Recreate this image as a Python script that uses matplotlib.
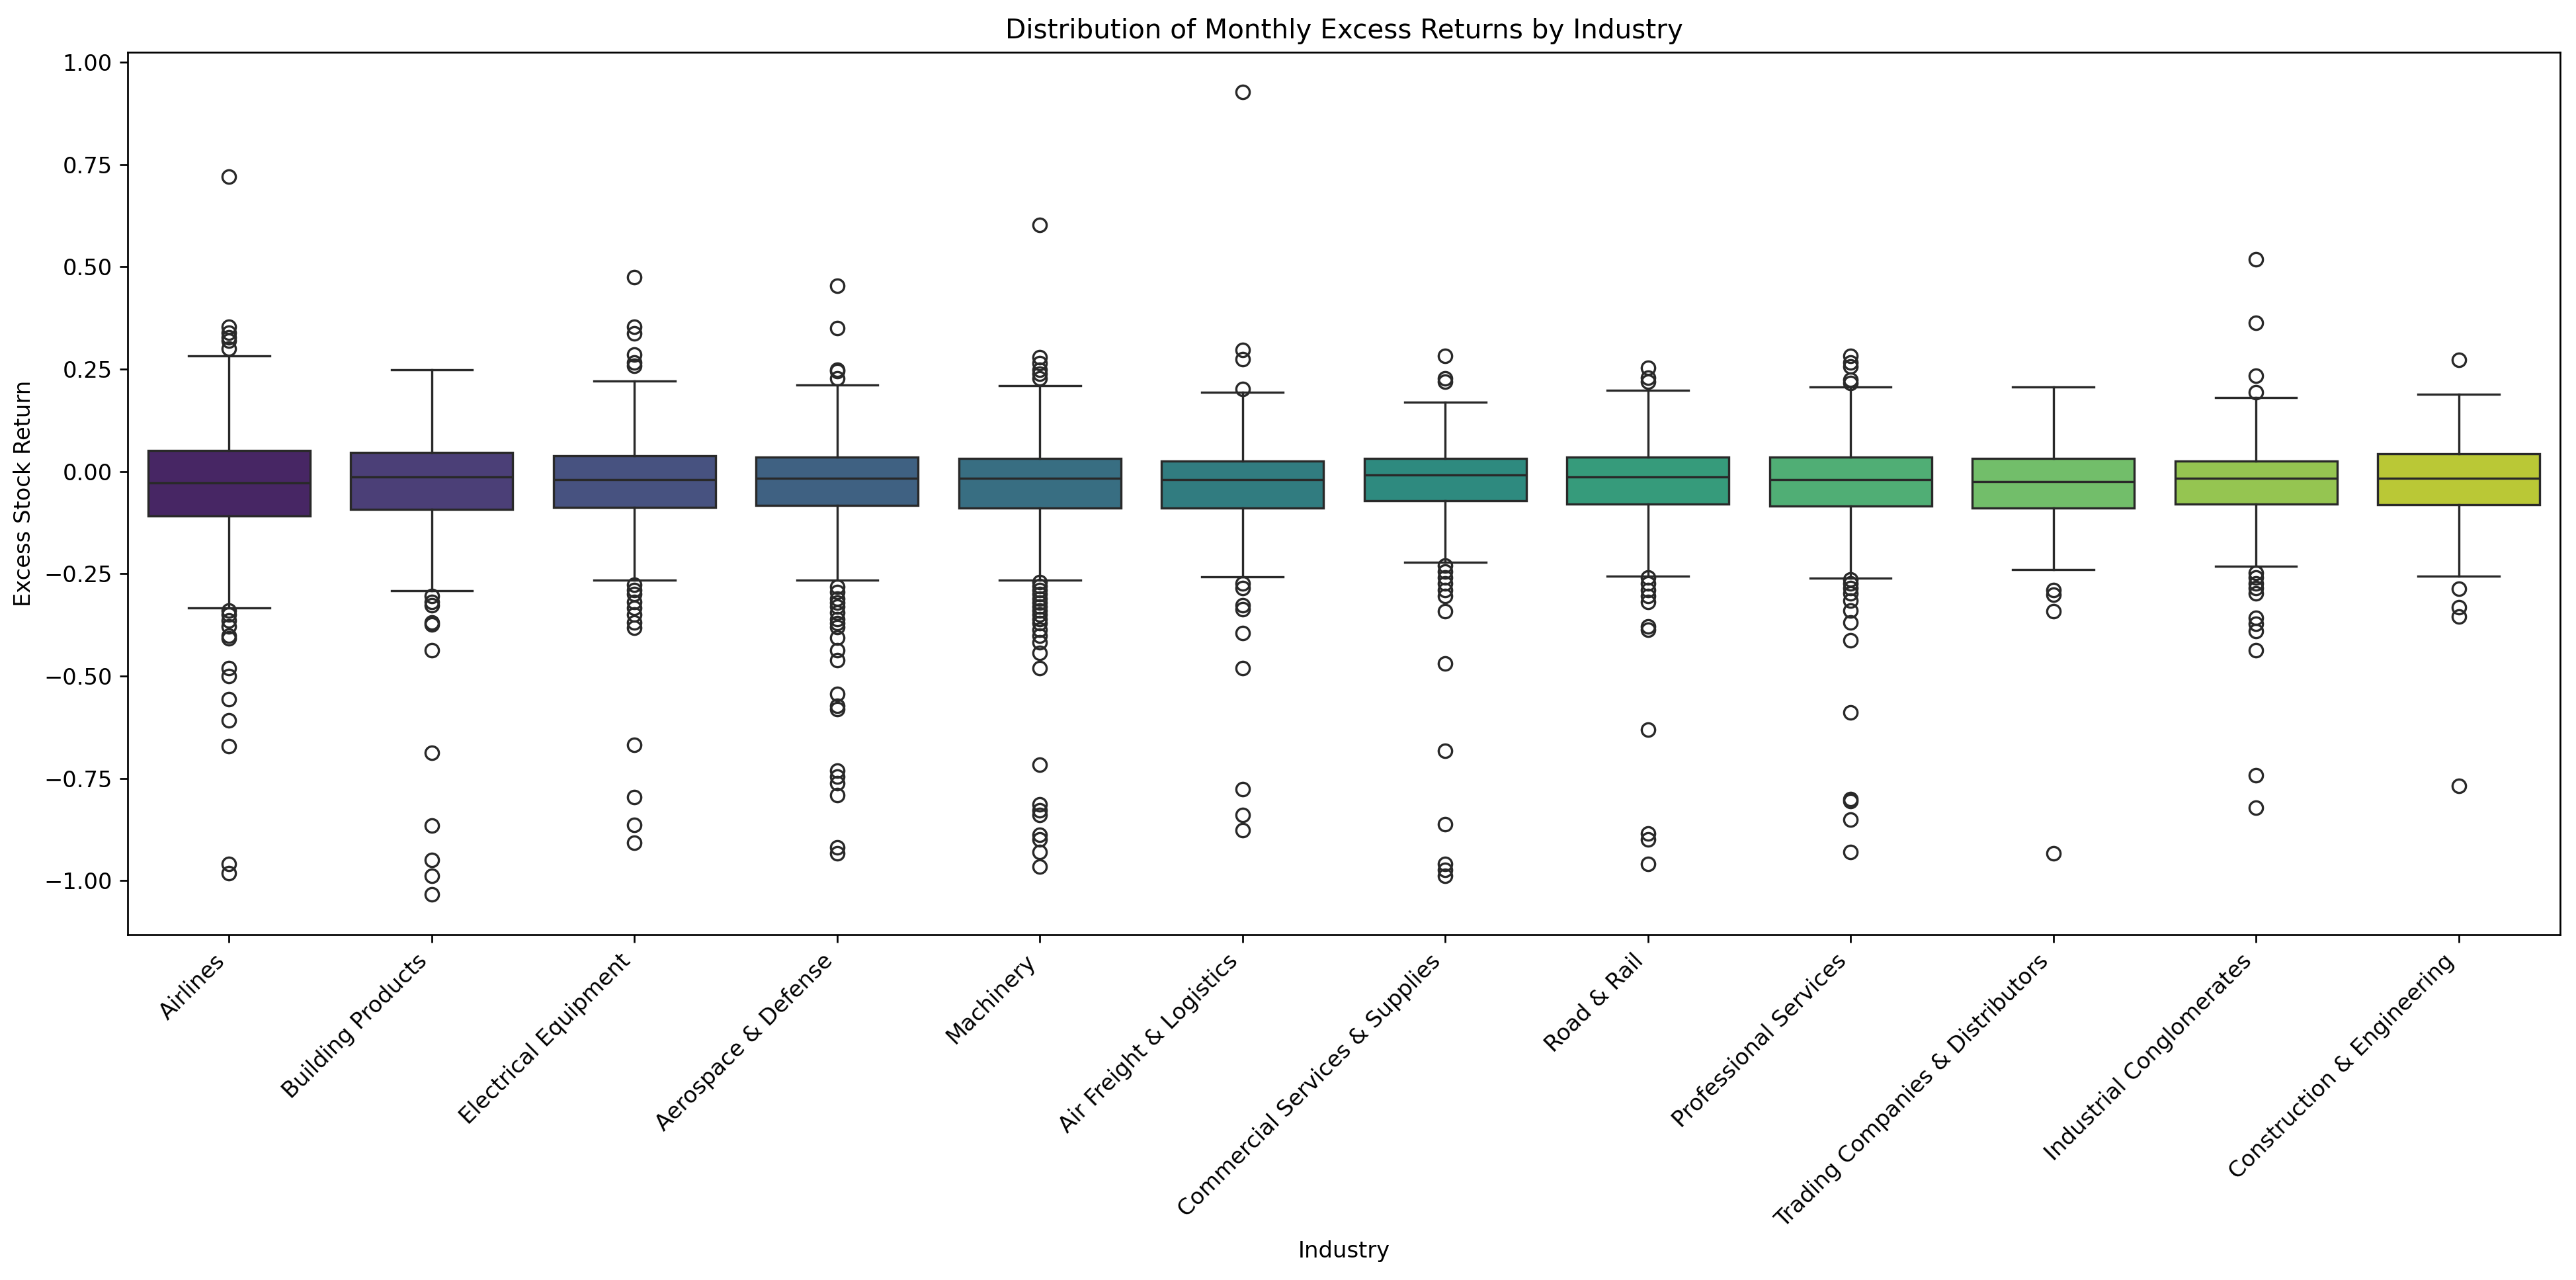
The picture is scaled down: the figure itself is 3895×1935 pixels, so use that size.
import colorsys

import matplotlib
matplotlib.use("Agg")
import matplotlib.pyplot as plt
import seaborn as sns

industries = ["Airlines", "Building Products", "Electrical Equipment",
              "Aerospace & Defense", "Machinery", "Air Freight & Logistics",
              "Commercial Services & Supplies", "Road & Rail",
              "Professional Services", "Trading Companies & Distributors",
              "Industrial Conglomerates", "Construction & Engineering"]

# box statistics
medians = [-0.028, -0.013, -0.019, -0.016, -0.017, -0.020,
           -0.008, -0.013, -0.020, -0.025, -0.016, -0.016]
q1 = [-0.108, -0.092, -0.088, -0.083, -0.089, -0.089,
      -0.072, -0.080, -0.084, -0.089, -0.080, -0.082]
q3 = [0.052, 0.046, 0.038, 0.035, 0.032, 0.026,
      0.032, 0.035, 0.035, 0.032, 0.026, 0.043]
whis_lo = [-0.334, -0.291, -0.266, -0.266, -0.266, -0.258,
           -0.222, -0.255, -0.261, -0.239, -0.231, -0.255]
whis_hi = [0.282, 0.249, 0.221, 0.212, 0.209, 0.194,
           0.170, 0.198, 0.206, 0.206, 0.180, 0.189]

outliers = [
    # Airlines
    [0.720, 0.354, 0.339, 0.328, 0.319, 0.301,
     -0.339, -0.349, -0.364, -0.379, -0.402, -0.408, -0.481, -0.499,
     -0.556, -0.608, -0.671, -0.958, -0.981],
    # Building Products
    [-0.304, -0.319, -0.327, -0.369, -0.374, -0.436, -0.687, -0.865,
     -0.949, -0.988, -1.033],
    # Electrical Equipment
    [0.475, 0.354, 0.337, 0.286, 0.266, 0.259,
     -0.277, -0.289, -0.300, -0.319, -0.334, -0.349, -0.369, -0.382,
     -0.668, -0.795, -0.864, -0.907],
    # Aerospace & Defense
    [0.453, 0.351, 0.249, 0.245, 0.227,
     -0.282, -0.295, -0.310, -0.320, -0.330, -0.345, -0.360, -0.370,
     -0.380, -0.406, -0.436, -0.461, -0.543, -0.573, -0.581, -0.731,
     -0.746, -0.761, -0.791, -0.918, -0.933],
    # Machinery
    [0.602, 0.279, 0.264, 0.249, 0.239, 0.227,
     -0.270, -0.280, -0.290, -0.300, -0.310, -0.320, -0.330, -0.340,
     -0.350, -0.360, -0.370, -0.387, -0.402, -0.417, -0.443, -0.481,
     -0.716, -0.813, -0.828, -0.840, -0.888, -0.899, -0.929, -0.966],
    # Air Freight & Logistics
    [0.927, 0.297, 0.274, 0.201,
     -0.274, -0.285, -0.327, -0.337, -0.394, -0.481, -0.776, -0.839,
     -0.876],
    # Commercial Services & Supplies
    [0.282, 0.227, 0.219,
     -0.230, -0.245, -0.259, -0.274, -0.289, -0.304, -0.342, -0.469,
     -0.683, -0.862, -0.958, -0.973, -0.988],
    # Road & Rail
    [0.254, 0.229, 0.219,
     -0.259, -0.274, -0.289, -0.304, -0.319, -0.379, -0.387, -0.631,
     -0.884, -0.899, -0.958],
    # Professional Services
    [0.282, 0.267, 0.257, 0.224, 0.216,
     -0.264, -0.274, -0.285, -0.297, -0.315, -0.339, -0.369, -0.413,
     -0.588, -0.801, -0.806, -0.850, -0.930],
    # Trading Companies & Distributors
    [-0.289, -0.301, -0.342, -0.933],
    # Industrial Conglomerates
    [0.518, 0.364, 0.234, 0.194,
     -0.248, -0.259, -0.274, -0.285, -0.297, -0.357, -0.372, -0.390,
     -0.436, -0.743, -0.821],
    # Construction & Engineering
    [0.273, -0.286, -0.331, -0.354, -0.768],
]

palette = sns.color_palette("viridis", len(industries))
faces = [sns.desaturate(c, 0.75) for c in palette]
# seaborn-style gray for the lines
lum = min(colorsys.rgb_to_hls(*c)[1] for c in palette) * 0.6
line = (lum, lum, lum)

stats = []
for i, name in enumerate(industries):
    stats.append(dict(label=name, med=medians[i], q1=q1[i], q3=q3[i],
                      whislo=whis_lo[i], whishi=whis_hi[i], fliers=outliers[i]))

fig, ax = plt.subplots(figsize=(3895 / 243, 1935 / 243), dpi=243)
fig.subplots_adjust(left=0.0496, right=0.9938, top=0.9594, bottom=0.270)

bp = ax.bxp(stats, positions=range(len(industries)), widths=0.8,
            capwidths=0.4, patch_artist=True,
            boxprops=dict(edgecolor=line, linewidth=1.0),
            medianprops=dict(color=line, linewidth=1.0),
            whiskerprops=dict(color=line, linewidth=1.0),
            capprops=dict(color=line, linewidth=1.0),
            flierprops=dict(marker="o", markerfacecolor="none",
                            markeredgecolor=line, markersize=6,
                            markeredgewidth=1.0))
for patch, c in zip(bp["boxes"], faces):
    patch.set_facecolor(c)

ax.set_xlim(-0.5, len(industries) - 0.5)
ax.set_xticks(range(len(industries)), industries, rotation=45, ha="right")
ax.set_title("Distribution of Monthly Excess Returns by Industry")
ax.set_xlabel("Industry")
ax.set_ylabel("Excess Stock Return")

fig.savefig("out.png", dpi=243)
